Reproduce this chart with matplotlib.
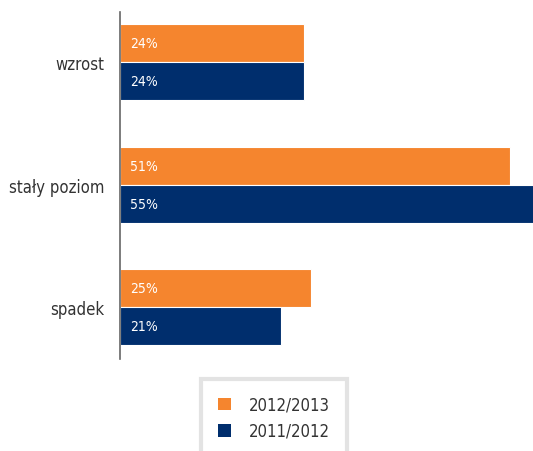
import matplotlib
matplotlib.use("Agg")
import matplotlib.pyplot as plt
from matplotlib.patches import Patch
import numpy as np

categories = ["wzrost", "stały poziom", "spadek"]
series_names = ["2012/2013", "2011/2012"]
values_2012_2013 = [24, 51, 25]
values_2011_2012 = [24, 55, 21]
colors = ["#F5852E", "#002E6D"]

plt.rcParams['font.family'] = ['DejaVu Sans']
plt.rcParams['font.stretch'] = 'condensed'

fig = plt.figure(figsize=(5.33, 4.52), dpi=100)
ax = fig.add_axes([120/533, 1-360/452, 1-120/533, (360-13)/452])

y = np.arange(len(categories))
h = 0.31
ax.barh(y - h/2, values_2012_2013, height=h, color=colors[0], edgecolor="white", linewidth=0.8)
ax.barh(y + h/2, values_2011_2012, height=h, color=colors[1], edgecolor="white", linewidth=0.8)

for yy, v in zip(y - h/2, values_2012_2013):
    ax.text(1.3, yy, f"{v}%", color="white", va="center", ha="left", fontsize=10)
for yy, v in zip(y + h/2, values_2011_2012):
    ax.text(1.3, yy, f"{v}%", color="white", va="center", ha="left", fontsize=10)

ax.set_xlim(0, 54)
ax.set_ylim(2.424, -0.408)
ax.set_yticks(y)
ax.set_yticklabels(categories, fontsize=12, color="#333333")
ax.tick_params(axis="y", length=0, pad=11)
ax.set_xticks([])
for s in ["top", "right", "bottom"]:
    ax.spines[s].set_visible(False)
ax.spines["left"].set_color("#666666")
ax.spines["left"].set_linewidth(1.2)

handles = [Patch(facecolor=colors[0]), Patch(facecolor=colors[1])]
leg = fig.legend(handles, series_names, loc="upper left",
                 bbox_to_anchor=(201/533, 1-380/452), fontsize=12,
                 handlelength=0.8, handleheight=0.8, handletextpad=1.1,
                 labelspacing=0.5, borderpad=1.0, borderaxespad=0,
                 fancybox=False, frameon=True, labelcolor="#333333")
leg.get_frame().set_edgecolor("#DDDDDD")
leg.get_frame().set_linewidth(3)

fig.savefig("out.png", dpi=100)
